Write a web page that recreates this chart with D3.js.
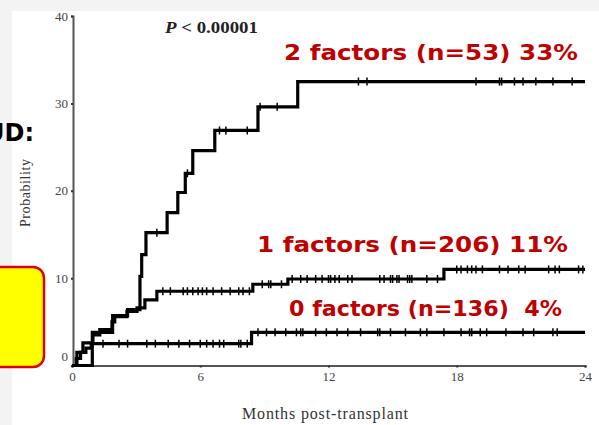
<!DOCTYPE html>
<html>
<head>
<meta charset="utf-8">
<script src="https://cdn.jsdelivr.net/npm/d3@7"></script>
<style>
  body { margin: 0; background: #f3f3f3; }
  svg { display: block; }
</style>
</head>
<body>
<div id="chart"></div>
<script>
// Kaplan-Meier step data (months, probability %)
var months2 = [0, 0.95, 1.9, 2.6, 3.18, 3.26, 3.46, 4.45, 4.95, 5.3, 5.65, 6.68, 8.7, 10.56, 24];
var prob2 = [0, 3.8, 5.7, 6.4, 10.2, 12.7, 15.2, 17.5, 19.8, 22.0, 24.6, 26.9, 29.6, 32.5, 32.5];
var censor2 = [3.97, 5.4, 6.9, 7.2, 8.2, 8.8, 9.6, 13.4, 13.8, 18.9, 20.0, 20.1, 20.7, 21.1, 21.7, 22.5, 23.4];

var months1 = [0, 0.23, 0.51, 0.98, 1.3, 1.87, 2.0, 2.57, 3.04, 3.41, 3.97, 8.46, 10.1, 17.4, 24];
var prob1 = [0, 1.5, 2.6, 3.5, 4.1, 5.0, 5.6, 6.2, 6.6, 7.5, 8.5, 9.3, 9.9, 11.0, 11.0];
var censor1 = [4.25, 4.6, 5.2, 5.4, 5.65, 5.9, 6.1, 6.3, 6.6, 7.0, 7.4, 7.8, 8.0, 8.3, 8.9, 9.2, 9.3, 9.8,
  10.3, 10.7, 11.0, 11.4, 11.7, 12.0, 12.1, 12.3, 12.5, 12.9, 13.1, 14.4, 14.6, 14.9, 15.0, 15.2, 15.3,
  15.7, 15.8, 15.9, 16.6, 17.1, 18.0, 18.2, 18.5, 18.7, 18.9, 19.2, 20.0, 20.4, 20.9, 21.2, 22.3, 22.6, 22.8, 23.7, 23.9];

var months0 = [0, 0.2, 0.4, 0.65, 0.9, 8.4, 24];
var prob0 = [0, 0.8, 1.5, 2.0, 2.5, 3.8, 3.8];
var censor0 = [1.45, 2.2, 2.6, 3.5, 3.9, 4.5, 5.0, 5.5, 6.0, 6.3, 6.6, 6.9, 7.1, 7.8, 7.9, 8.2,
  8.7, 9.1, 9.5, 10.0, 10.5, 10.7, 10.8, 11.4, 11.9, 12.4, 12.9, 13.5, 14.3, 14.4, 14.9,
  15.6, 16.3, 16.6, 17.4, 18.2, 18.6, 18.7, 19.1, 19.4, 20.3, 21.1, 21.6, 22.5, 22.7];

var xTicks = [0, 6, 12, 18, 24];
var yTicks = [0, 10, 20, 30, 40];
var groupLabels = ["2 factors (n=53) 33%", "1 factors (n=206) 11%", "0 factors (n=136)  4%"];

// SVG size
var svgWidth = 599;
var svgHeight = 425;

var svg = d3.select("#chart")
    .append("svg")
    .attr("width", svgWidth)
    .attr("height", svgHeight);

// white picture area on the gray slide
svg.append("rect")
    .attr("x", 12)
    .attr("y", 11)
    .attr("width", svgWidth - 12)
    .attr("height", svgHeight - 11)
    .attr("fill", "white");

// Scales
var xScale = d3.scaleLinear().domain([0, 24]).range([72, 585]);
var yScale = d3.scaleLinear().domain([0, 40]).range([365.5, 16]);

// Axes
var bottomAxis = d3.axisBottom(xScale).tickValues(xTicks).tickSize(2).tickPadding(4);
var leftAxis = d3.axisLeft(yScale).tickValues(yTicks).tickSize(2).tickPadding(3);

var xAxis = svg.append("g")
    .attr("transform", `translate(0, ${yScale(0)})`)
    .call(bottomAxis);

var yAxis = svg.append("g")
    .attr("transform", `translate(${xScale(0) + 1}, 0)`)
    .call(leftAxis);

[xAxis, yAxis].forEach(function(ax) {
    ax.select(".domain").attr("stroke", "#555").attr("stroke-width", 2);
    ax.selectAll(".tick line").attr("stroke", "#333").attr("stroke-width", 2);
    ax.selectAll("text")
        .attr("font-family", "Liberation Serif")
        .attr("font-size", 13)
        .attr("fill", "#444");
});
// the zero label sits a little above the axis line in the original
yAxis.selectAll(".tick")
    .filter(d => d === 0)
    .select("text")
    .attr("dy", "-0.35em");

// Axis titles
svg.append("text")
    .attr("transform", `translate(30, 193) rotate(-90)`)
    .attr("text-anchor", "middle")
    .attr("font-family", "Liberation Serif")
    .attr("font-size", 14)
    .attr("textLength", 68)
    .attr("fill", "#333")
    .text("Probability");

svg.append("text")
    .attr("x", 325)
    .attr("y", 419)
    .attr("text-anchor", "middle")
    .attr("font-family", "Liberation Serif")
    .attr("font-size", 16)
    .attr("textLength", 166)
    .attr("fill", "#333")
    .text("Months post-transplant");

// P value
var pText = svg.append("text")
    .attr("x", 165)
    .attr("y", 33)
    .attr("font-family", "Liberation Serif")
    .attr("font-size", 16)
    .attr("font-weight", "bold")
    .attr("textLength", 93)
    .attr("lengthAdjust", "spacingAndGlyphs")
    .attr("fill", "#222");
pText.append("tspan").attr("font-style", "italic").text("P");
pText.append("tspan").text(" < 0.00001");

// Curves
var stepLine = d3.line()
    .x(d => xScale(d[0]))
    .y(d => yScale(d[1]))
    .curve(d3.curveStepAfter);

var curves = [
    {months: months2, prob: prob2, censor: censor2},
    {months: months1, prob: prob1, censor: censor1},
    {months: months0, prob: prob0, censor: censor0}
];

curves.forEach(function(c) {
    var pts = c.months.map((m, i) => [m, c.prob[i]]);
    svg.append("path")
        .datum(pts)
        .attr("d", stepLine)
        .attr("fill", "none")
        .attr("stroke", "black")
        .attr("stroke-width", 3.2);

    // level of the step function at a given month
    var levelAt = function(m) {
        var i = d3.bisectRight(c.months, m) - 1;
        return c.prob[Math.max(0, i)];
    };

    svg.selectAll(null)
        .data(c.censor)
        .enter()
        .append("line")
        .attr("x1", d => xScale(d))
        .attr("x2", d => xScale(d))
        .attr("y1", d => yScale(levelAt(d)) - 4)
        .attr("y2", d => yScale(levelAt(d)) + 4)
        .attr("stroke", "black")
        .attr("stroke-width", 1.5);
});

// Red group labels
var labelPos = [[284, 60, 294], [257, 252, 311], [289, 316, 273]];
svg.selectAll(null)
    .data(groupLabels)
    .enter()
    .append("text")
    .attr("x", (d, i) => labelPos[i][0])
    .attr("y", (d, i) => labelPos[i][1])
    .attr("textLength", (d, i) => labelPos[i][2])
    .attr("lengthAdjust", "spacingAndGlyphs")
    .attr("font-family", "DejaVu Sans")
    .attr("font-weight", "bold")
    .attr("font-size", 21.5)
    .attr("fill", "#c00000")
    .attr("xml:space", "preserve")
    .style("white-space", "pre")
    .text(d => d);

// Slide overlay pieces on the left edge
svg.append("text")
    .attr("x", 34)
    .attr("y", 141)
    .attr("text-anchor", "end")
    .attr("font-family", "DejaVu Sans")
    .attr("font-weight", "bold")
    .attr("font-size", 24)
    .attr("fill", "black")
    .text("UD:");

svg.append("rect")
    .attr("x", -20)
    .attr("y", 267)
    .attr("width", 64)
    .attr("height", 100)
    .attr("rx", 11)
    .attr("fill", "#ffff00")
    .attr("stroke", "#e00000")
    .attr("stroke-width", 2.5);
</script>
</body>
</html>
